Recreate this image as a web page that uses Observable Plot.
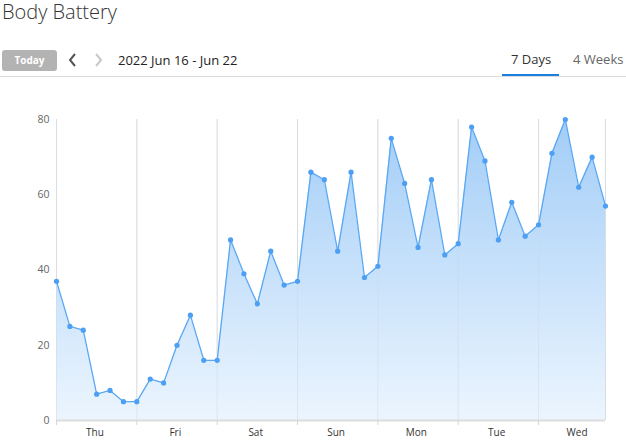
<!DOCTYPE html>
<html>
<head>
<meta charset="utf-8">
<script src="https://cdn.jsdelivr.net/npm/d3@7"></script>
<script src="https://cdn.jsdelivr.net/npm/@observablehq/plot@0.6"></script>
<style>
  html, body { margin: 0; padding: 0; background: #fff; }
  body { width: 626px; height: 443px; position: relative; overflow: hidden; font-family: "Open Sans", sans-serif; }
  #title { position: absolute; left: 2px; top: 0px; font-size: 20px; line-height: 24px; font-weight: 300; color: #333; white-space: nowrap; }
  #today { position: absolute; left: 2px; top: 50px; width: 55px; height: 21px; border-radius: 3px; background: #b3b3b3; color: #fff; font-size: 10px; font-weight: 700; line-height: 21px; text-align: center; }
  #nav { position: absolute; left: 66px; top: 52px; }
  #range { position: absolute; left: 118px; top: 50px; font-size: 13px; color: #222; line-height: 20px; white-space: nowrap; }
  #tab7 { position: absolute; left: 511px; top: 49px; font-size: 13px; color: #333; line-height: 20px; white-space: nowrap; }
  #tab4 { position: absolute; left: 573px; top: 49px; font-size: 13px; color: #666; line-height: 20px; white-space: nowrap; }
  #sep { position: absolute; left: 0; top: 76px; width: 626px; height: 1px; background: #dcdcdc; }
  #ul { position: absolute; left: 502px; top: 74px; width: 57px; height: 2px; background: #1a7fe0; }
  #chart { position: absolute; left: 0; top: 80px; }
</style>
</head>
<body>
<div id="title">Body Battery</div>
<div id="today">Today</div>
<svg id="nav" width="44" height="16">
  <polyline points="9,2 4,8 9,14" fill="none" stroke="#555" stroke-width="2"/>
  <polyline points="30,2 35,8 30,14" fill="none" stroke="#c8c8c8" stroke-width="2"/>
</svg>
<div id="range">2022 Jun 16 - Jun 22</div>
<div id="tab7">7 Days</div>
<div id="tab4">4 Weeks</div>
<div id="sep"></div>
<div id="ul"></div>
<div id="chart"></div>
<script>
// Data: Body Battery readings every 4 hours, Thu Jun 16 00:00 – Wed Jun 22 20:00
const startDate = new Date(2022, 5, 16, 0, 0);
const dayLabels = ["Thu", "Fri", "Sat", "Sun", "Mon", "Tue", "Wed"];
const thuValues = [37, 25, 24, 7, 8, 5];
const friValues = [5, 11, 10, 20, 28, 16];
const satValues = [16, 48, 39, 31, 45, 36];
const sunValues = [37, 66, 64, 45, 66, 38];
const monValues = [41, 75, 63, 46, 64, 44];
const tueValues = [47, 78, 69, 48, 58, 49];
const wedValues = [52, 71, 80, 62, 70, 57];
const yTicks = [0, 20, 40, 60, 80];

const allValues = [thuValues, friValues, satValues, sunValues, monValues, tueValues, wedValues].flat();
const HOUR = 3600 * 1000;
const data = allValues.map((v, i) => ({ t: new Date(+startDate + i * 4 * HOUR), v }));
const dayStarts = dayLabels.map((d, i) => new Date(+startDate + i * 24 * HOUR));
const dayLabelTimes = dayLabels.map((d, i) => new Date(+startDate + (i * 24 + 11.5) * HOUR));
const endDate = data[data.length - 1].t;

const gradient = () => {
  const defs = d3.create("svg:defs");
  const g = defs.append("linearGradient").attr("id", "bbGrad").attr("x1", 0).attr("y1", 0).attr("x2", 0).attr("y2", 1);
  g.append("stop").attr("offset", "0%").attr("stop-color", "#a2cdf7");
  g.append("stop").attr("offset", "100%").attr("stop-color", "#ecf5fe");
  return defs.node();
};

const chart = Plot.plot({
  width: 626,
  height: 363,
  marginTop: 39,
  marginBottom: 23,
  marginLeft: 56,
  marginRight: 21,
  style: { fontFamily: "Open Sans, sans-serif", background: "transparent" },
  x: { type: "time", domain: [startDate, endDate], label: null },
  y: { domain: [0, 80], label: null },
  marks: [
    gradient,
    Plot.ruleX([...dayStarts, endDate], { y1: 0, y2: 80, stroke: "#e3e3e3", strokeWidth: 1 }),
    Plot.areaY(data, { x: "t", y: "v", fill: "url(#bbGrad)" }),
    Plot.ruleX([...dayStarts, endDate], { y1: 0, y2: 80, stroke: "#c9d6e4", strokeOpacity: 0.45, strokeWidth: 1 }),
    Plot.ruleY([0], { stroke: "#dcdcdc", strokeWidth: 2 }),
    Plot.axisX(dayStarts, { tickSize: 5, tickFormat: () => "", stroke: "#d6d6d6", label: null }),
    Plot.axisX(dayLabelTimes, { tickSize: 0, tickPadding: 8, tickFormat: (d, i) => dayLabels[i], fontSize: 10, fill: "#333", label: null }),
    Plot.axisY(yTicks, { tickSize: 0, tickPadding: 7, fontSize: 10.5, fill: "#666", label: null }),
    Plot.line(data, { x: "t", y: "v", stroke: "#5aa8f4", strokeWidth: 1.3 }),
    Plot.dot(data, { x: "t", y: "v", r: 2.6, fill: "#4c9ff2", stroke: "none" })
  ]
});
document.getElementById("chart").appendChild(chart);
</script>
</body>
</html>
